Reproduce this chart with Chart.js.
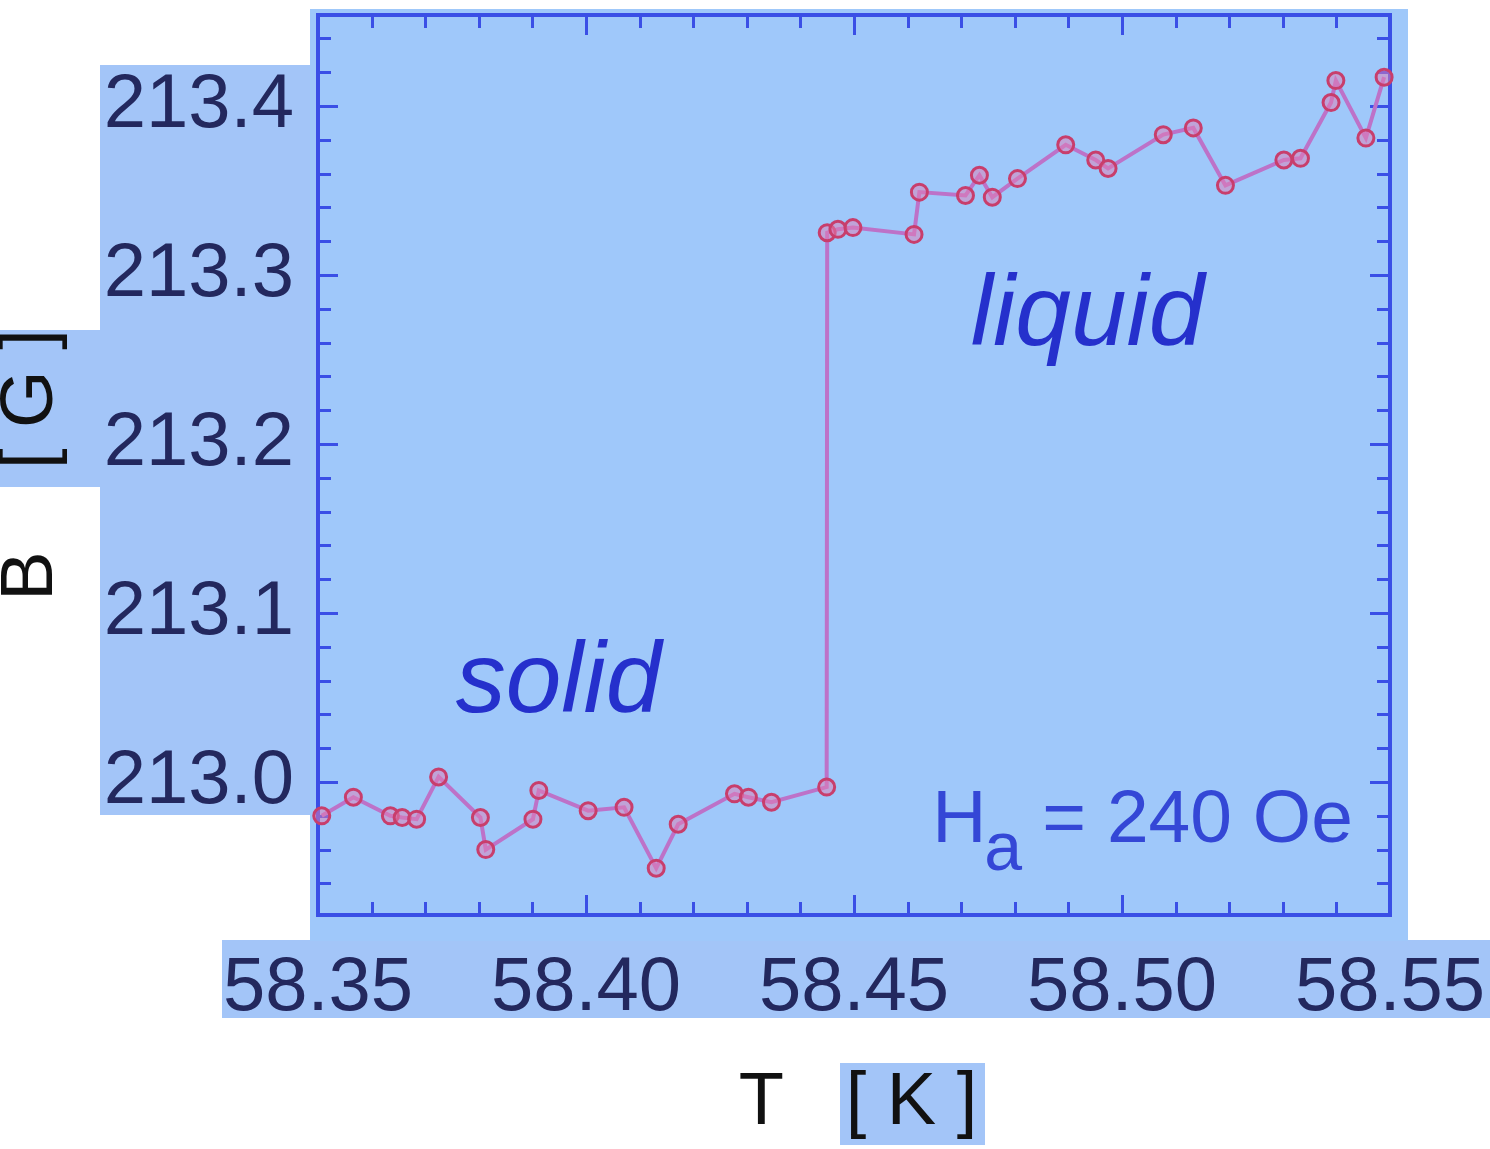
<!DOCTYPE html>
<html>
<head>
<meta charset="utf-8">
<title>B vs T</title>
<script src="https://cdn.jsdelivr.net/npm/chart.js@4/dist/chart.umd.min.js"></script>
<style>
    html, body { margin: 0; padding: 0; background: #ffffff; }
    #wrap { width: 1490px; height: 1149px; }
</style>
</head>
<body>
<div id="wrap"><canvas id="fieldChart" width="1490" height="1149"></canvas></div>
<script>
// temperature T [K] and field B [G]
const temps = [
    58.3507, 58.3566, 58.3635, 58.3657, 58.3684, 58.3725, 58.3803, 58.3813,
    58.3901, 58.3912, 58.4004, 58.4071, 58.4131, 58.4172, 58.4277, 58.4303,
    58.4346, 58.4449, 58.4450, 58.4470, 58.4498, 58.4612, 58.4622, 58.4708,
    58.4734, 58.4758, 58.4805, 58.4895, 58.4951, 58.4974, 58.5077, 58.5133,
    58.5193, 58.5302, 58.5333, 58.5390, 58.5399, 58.5455, 58.5489
];
const fields = [
    212.980, 212.991, 212.980, 212.979, 212.978, 213.003, 212.979, 212.960,
    212.978, 212.995, 212.983, 212.985, 212.949, 212.975, 212.993, 212.991,
    212.988, 212.997, 213.325, 213.327, 213.328, 213.324, 213.349, 213.347,
    213.359, 213.346, 213.357, 213.377, 213.368, 213.363, 213.383, 213.387,
    213.353, 213.368, 213.369, 213.402, 213.415, 213.381, 213.417
];
const xTickValues = [58.35, 58.40, 58.45, 58.50, 58.55];
const yTickValues = [213.0, 213.1, 213.2, 213.3, 213.4];

const fontFamily = '"Liberation Sans", Arial, sans-serif';
const frameBlue = '#3a4fe6';

function drawPaper(chart) {
    const ctx = chart.ctx;
    ctx.save();
    ctx.fillStyle = '#ffffff';
    ctx.fillRect(0, 0, chart.width, chart.height);
    // scanned background patches
    ctx.fillStyle = '#a3c5f8';
    ctx.fillRect(100, 65, 220, 750);     // y tick labels
    ctx.fillRect(0, 330, 100, 157);      // [G]
    ctx.fillRect(222, 940, 1268, 78);    // x tick labels
    ctx.fillRect(840, 1063, 145, 82);    // [K]
    ctx.fillStyle = '#9fc8fa';
    ctx.fillRect(310, 9, 1098, 932);     // plot
    ctx.restore();
}

function drawFrame(chart) {
    const ctx = chart.ctx;
    const a = chart.chartArea;
    const xs = chart.scales.x, ys = chart.scales.y;
    ctx.save();
    ctx.strokeStyle = frameBlue;
    ctx.lineWidth = 3;
    ctx.beginPath();
    for (let i = 0; i <= 20; i++) {
        const v = 58.35 + i * 0.01;
        const px = Math.round(xs.getPixelForValue(v)) + 0.5;
        const len = i % 5 === 0 ? 20 : 13;
        ctx.moveTo(px, a.bottom); ctx.lineTo(px, a.bottom - len);
        ctx.moveTo(px, a.top); ctx.lineTo(px, a.top + len);
    }
    for (let i = 0; i <= 26; i++) {
        const v = 212.92 + i * 0.02;
        if (v < ys.min || v > ys.max) continue;
        const py = Math.round(ys.getPixelForValue(v)) + 0.5;
        const major = Math.abs((v * 10) - Math.round(v * 10)) < 1e-6;
        const len = major ? 20 : 13;
        ctx.moveTo(a.left, py); ctx.lineTo(a.left + len, py);
        ctx.moveTo(a.right, py); ctx.lineTo(a.right - len, py);
    }
    ctx.stroke();
    ctx.lineWidth = 4;
    ctx.strokeRect(a.left, a.top, a.right - a.left, a.bottom - a.top);
    ctx.restore();
}

function drawLabels(chart) {
    const ctx = chart.ctx;
    const xs = chart.scales.x, ys = chart.scales.y;
    ctx.save();
    ctx.textBaseline = 'alphabetic';
    ctx.textAlign = 'left';

    ctx.fillStyle = '#2530cc';
    ctx.font = 'italic 100px ' + fontFamily;
    ctx.fillText('solid', xs.getPixelForValue(58.3757), ys.getPixelForValue(213.0414));
    ctx.fillText('liquid', xs.getPixelForValue(58.4718), ys.getPixelForValue(213.2586));

    // H_a = 240 Oe
    ctx.fillStyle = '#3447d6';
    const hx = xs.getPixelForValue(58.4646);
    const hy = ys.getPixelForValue(212.9645);
    ctx.font = '75px ' + fontFamily;
    ctx.fillText('H', hx, hy);
    ctx.font = '68px ' + fontFamily;
    ctx.fillText('a', hx + 52, hy + 28);
    ctx.font = '75px ' + fontFamily;
    ctx.fillText('= 240 Oe', hx + 110, hy);

    // axis titles
    ctx.fillStyle = '#111111';
    ctx.font = '74px ' + fontFamily;
    ctx.textAlign = 'center';
    ctx.textBaseline = 'middle';
    ctx.fillText('T   [ K ]', 858, 1104);
    ctx.translate(32, 465);
    ctx.rotate(-Math.PI / 2);
    ctx.fillText('B    [ G ]', 0, 0);
    ctx.restore();
}

const figurePlugin = {
    id: 'figure',
    beforeDraw: drawPaper,
    beforeDatasetsDraw: drawFrame,
    afterDraw: drawLabels
};

const ctx = document.getElementById('fieldChart').getContext('2d');
const chart = new Chart(ctx, {
    type: 'line',
    data: {
        datasets: [{
            data: temps.map((t, i) => ({ x: t, y: fields[i] })),
            borderColor: '#bd72c8',
            borderWidth: 4,
            pointRadius: 8,
            pointBorderWidth: 3,
            pointBorderColor: '#c83e6c',
            pointBackgroundColor: 'rgba(225, 125, 180, 0.5)',
            tension: 0,
            fill: false,
            clip: false
        }]
    },
    options: {
        responsive: false,
        animation: false,
        layout: { padding: { top: 15, right: 100, left: 0, bottom: 0 } },
        plugins: {
            legend: { display: false },
            tooltip: { enabled: false }
        },
        scales: {
            x: {
                type: 'linear',
                min: 58.35,
                max: 58.55,
                grid: { display: false },
                border: { display: false },
                afterBuildTicks: s => { s.ticks = xTickValues.map(v => ({ value: v })); },
                afterFit: s => { s.height = 234; s.paddingLeft = 0; s.paddingRight = 0; },
                ticks: {
                    callback: v => v.toFixed(2),
                    font: { family: fontFamily, size: 76 },
                    color: '#23285e',
                    padding: 20,
                    maxRotation: 0,
                    autoSkip: false
                }
            },
            y: {
                min: 212.9213,
                max: 213.4538,
                grid: { display: false },
                border: { display: false },
                afterBuildTicks: s => { s.ticks = yTickValues.map(v => ({ value: v })); },
                afterFit: s => { s.width = 318; s.paddingTop = 0; s.paddingBottom = 0; },
                ticks: {
                    callback: v => v.toFixed(1),
                    font: { family: fontFamily, size: 76 },
                    color: '#23285e',
                    padding: 16,
                    autoSkip: false
                }
            }
        }
    },
    plugins: [figurePlugin]
});
</script>
</body>
</html>
